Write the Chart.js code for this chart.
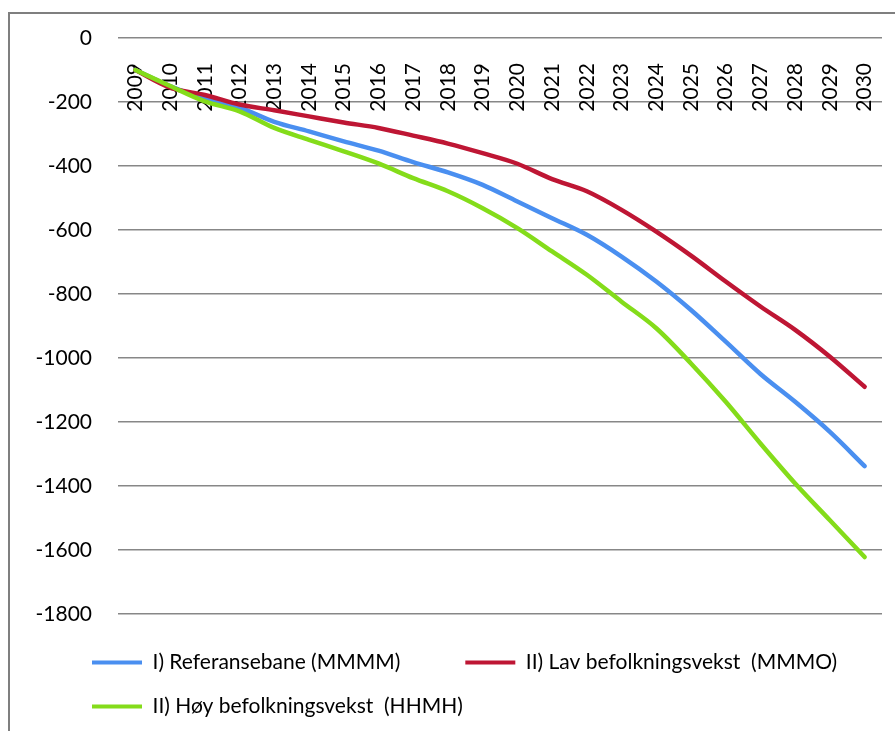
<!DOCTYPE html>
<html>
<head>
<meta charset="utf-8">
<script src="https://cdn.jsdelivr.net/npm/chart.js@4"></script>
<style>
  html, body { margin: 0; padding: 0; background: #fff; overflow: hidden; }
  #frame {
    position: absolute; left: 8px; top: 12px;
    width: 885px; height: 717px;
    border-left: 2px solid #7f7f7f; border-top: 2px solid #7f7f7f;
  }
</style>
</head>
<body>
<div id="frame"><canvas id="chart"></canvas></div>
<script>
// Data
const years = ['2009', '2010', '2011', '2012', '2013', '2014', '2015', '2016', '2017', '2018', '2019',
  '2020', '2021', '2022', '2023', '2024', '2025', '2026', '2027', '2028', '2029', '2030'];
const referanse = [-100, -150, -190, -218, -262, -292, -323, -352, -388, -420, -459,
  -511, -563, -615, -683, -761, -850, -949, -1050, -1137, -1231, -1338];
const lavVekst = [-100, -155, -178, -208, -226, -245, -264, -281, -305, -330, -360,
  -393, -441, -479, -537, -605, -680, -761, -839, -912, -996, -1090];
const hoyVekst = [-100, -150, -198, -229, -281, -318, -354, -392, -438, -479, -532,
  -594, -667, -740, -824, -907, -1017, -1137, -1267, -1392, -1507, -1622];
const seriesNames = ['I) Referansebane (MMMM)', 'II) Lav befolkningsvekst  (MMMO)', 'II) Høy befolkningsvekst  (HHMH)'];
const yMin = -1800, yMax = 0, yStep = 200;

const colors = ['#4a8ff0', '#be1634', '#84dc1a'];
const font = 'Lato';

function line(label, data, color, order) {
  return {
    label: label,
    data: data,
    borderColor: color,
    backgroundColor: color,
    borderWidth: 4.5,
    borderCapStyle: 'round',
    borderJoinStyle: 'round',
    pointRadius: 0,
    cubicInterpolationMode: 'monotone',
    fill: false,
    order: order
  };
}

// move the legend rows in under the plot, like the original
const legendShift = {
  id: 'legendShift',
  afterLayout(chart) {
    if (chart.legend) chart.legend.left += 59;
  }
};

new Chart(document.getElementById('chart'), {
  type: 'line',
  data: {
    labels: years,
    datasets: [
      line(seriesNames[0], referanse, colors[0], 2),
      line(seriesNames[1], lavVekst, colors[1], 1),
      line(seriesNames[2], hoyVekst, colors[2], 0)
    ]
  },
  plugins: [legendShift],
  options: {
    responsive: true,
    maintainAspectRatio: false,
    animation: false,
    layout: { padding: { left: 0, right: 13, top: 24, bottom: 4 } },
    scales: {
      x: {
        position: { y: 0 },
        offset: true,
        grid: { display: false, drawTicks: false },
        border: { display: false },
        ticks: {
          autoSkip: false,
          minRotation: 90,
          maxRotation: 90,
          padding: 25,
          color: '#000',
          font: { family: font, size: 21 }
        },
        afterFit: function (scale) {
          scale.paddingLeft = 0;
          scale.paddingRight = 0;
        }
      },
      y: {
        min: yMin,
        max: yMax,
        grid: { color: '#878787', lineWidth: 1.6, drawTicks: false },
        border: { display: false },
        ticks: {
          stepSize: yStep,
          padding: 26,
          color: '#000',
          font: { family: font, size: 21 },
          callback: v => String(v)
        },
        afterFit: function (scale) {
          scale.width = 108;
          scale.paddingTop = 0;
          scale.paddingBottom = 0;
        }
      }
    },
    plugins: {
      tooltip: { enabled: false },
      legend: {
        position: 'bottom',
        align: 'start',
        title: { display: true, text: '', padding: 0, font: { size: 10, lineHeight: '15px' } },
        labels: {
          boxWidth: 50,
          boxHeight: 4,
          padding: 23,
          color: '#000',
          font: { family: font, size: 21 },
          sort: (a, b) => a.datasetIndex - b.datasetIndex,
          generateLabels: function (chart) {
            const items = Chart.defaults.plugins.legend.labels.generateLabels(chart);
            items.forEach(item => {
              item.lineWidth = 0;
              item.fillStyle = item.strokeStyle;
              if (item.datasetIndex === 0) item.text += '\u2002\u2002\u2002\u2002';
            });
            return items;
          }
        }
      }
    }
  }
});
</script>
</body>
</html>
